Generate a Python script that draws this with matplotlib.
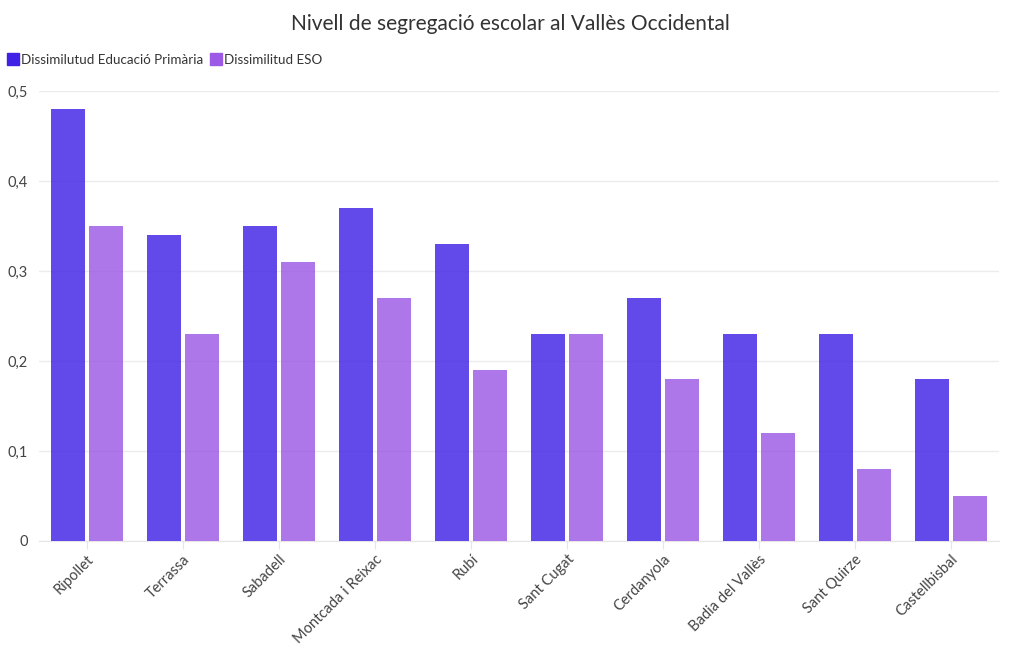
import matplotlib
matplotlib.use('Agg')
import matplotlib.pyplot as plt
import numpy as np
from matplotlib.lines import Line2D

plt.rcParams['font.family'] = ['Lato', 'DejaVu Sans']

municipis = ["Ripollet", "Terrassa", "Sabadell", "Montcada i Reixac", "Rubí",
             "Sant Cugat", "Cerdanyola", "Badia del Vallès", "Sant Quirze", "Castellbisbal"]
primaria = [0.48, 0.34, 0.35, 0.37, 0.33, 0.23, 0.27, 0.23, 0.23, 0.18]
eso = [0.35, 0.23, 0.31, 0.27, 0.19, 0.23, 0.18, 0.12, 0.08, 0.05]
series_names = ["Dissimilutud Educació Primària", "Dissimilitud ESO"]
yticks = [0, 0.1, 0.2, 0.3, 0.4, 0.5]

col_prim = '#3f22e6'
col_eso = '#9b59e6'

fig = plt.figure(figsize=(10.2, 6.5), dpi=100)
ax = fig.add_axes([39/1020, 1 - 541/650, 960/1020, 450/650])

x = np.arange(len(municipis))
w = 0.345
ax.bar(x - 0.198, primaria, w, color=col_prim, alpha=0.82, zorder=3)
ax.bar(x + 0.198, eso, w, color=col_eso, alpha=0.82, zorder=3)

ax.set_xlim(-0.5, len(municipis) - 0.5)
ax.set_ylim(0, 0.5)
ax.set_yticks(yticks)
ax.set_yticklabels([("%.1f" % v).replace('.', ',') if v else "0" for v in yticks])
ax.set_xticks(x)
ax.set_xticklabels(municipis, rotation=45, ha='right', va='top', rotation_mode='anchor')
ax.grid(axis='y', color='#ececec', lw=1, zorder=0)
for s in ['top', 'right', 'left']:
    ax.spines[s].set_visible(False)
ax.spines['bottom'].set_color('#e6e6e6')
ax.tick_params(axis='y', length=0, labelsize=10.5, colors='#444444', pad=8)
ax.tick_params(axis='x', length=6, color='#e6e6e6', labelsize=10.5, labelcolor='#444444', pad=2)

fig.text(0.5, 1 - 24/650, "Nivell de segregació escolar al Vallès Occidental",
         ha='center', va='center', fontsize=15, color='#333333')

handles = [Line2D([], [], marker='s', ls='none', color=col_prim, markersize=8.5),
           Line2D([], [], marker='s', ls='none', color=col_eso, markersize=8.5)]
fig.legend(handles, series_names, loc='center left', bbox_to_anchor=(8/1020, 1 - 60/650),
           ncol=2, frameon=False, fontsize=9.6, handletextpad=0.2, columnspacing=0.5,
           handlelength=0.8, labelcolor='#333333', borderaxespad=0, borderpad=0)

fig.savefig("out.png", dpi=100, facecolor='white')
